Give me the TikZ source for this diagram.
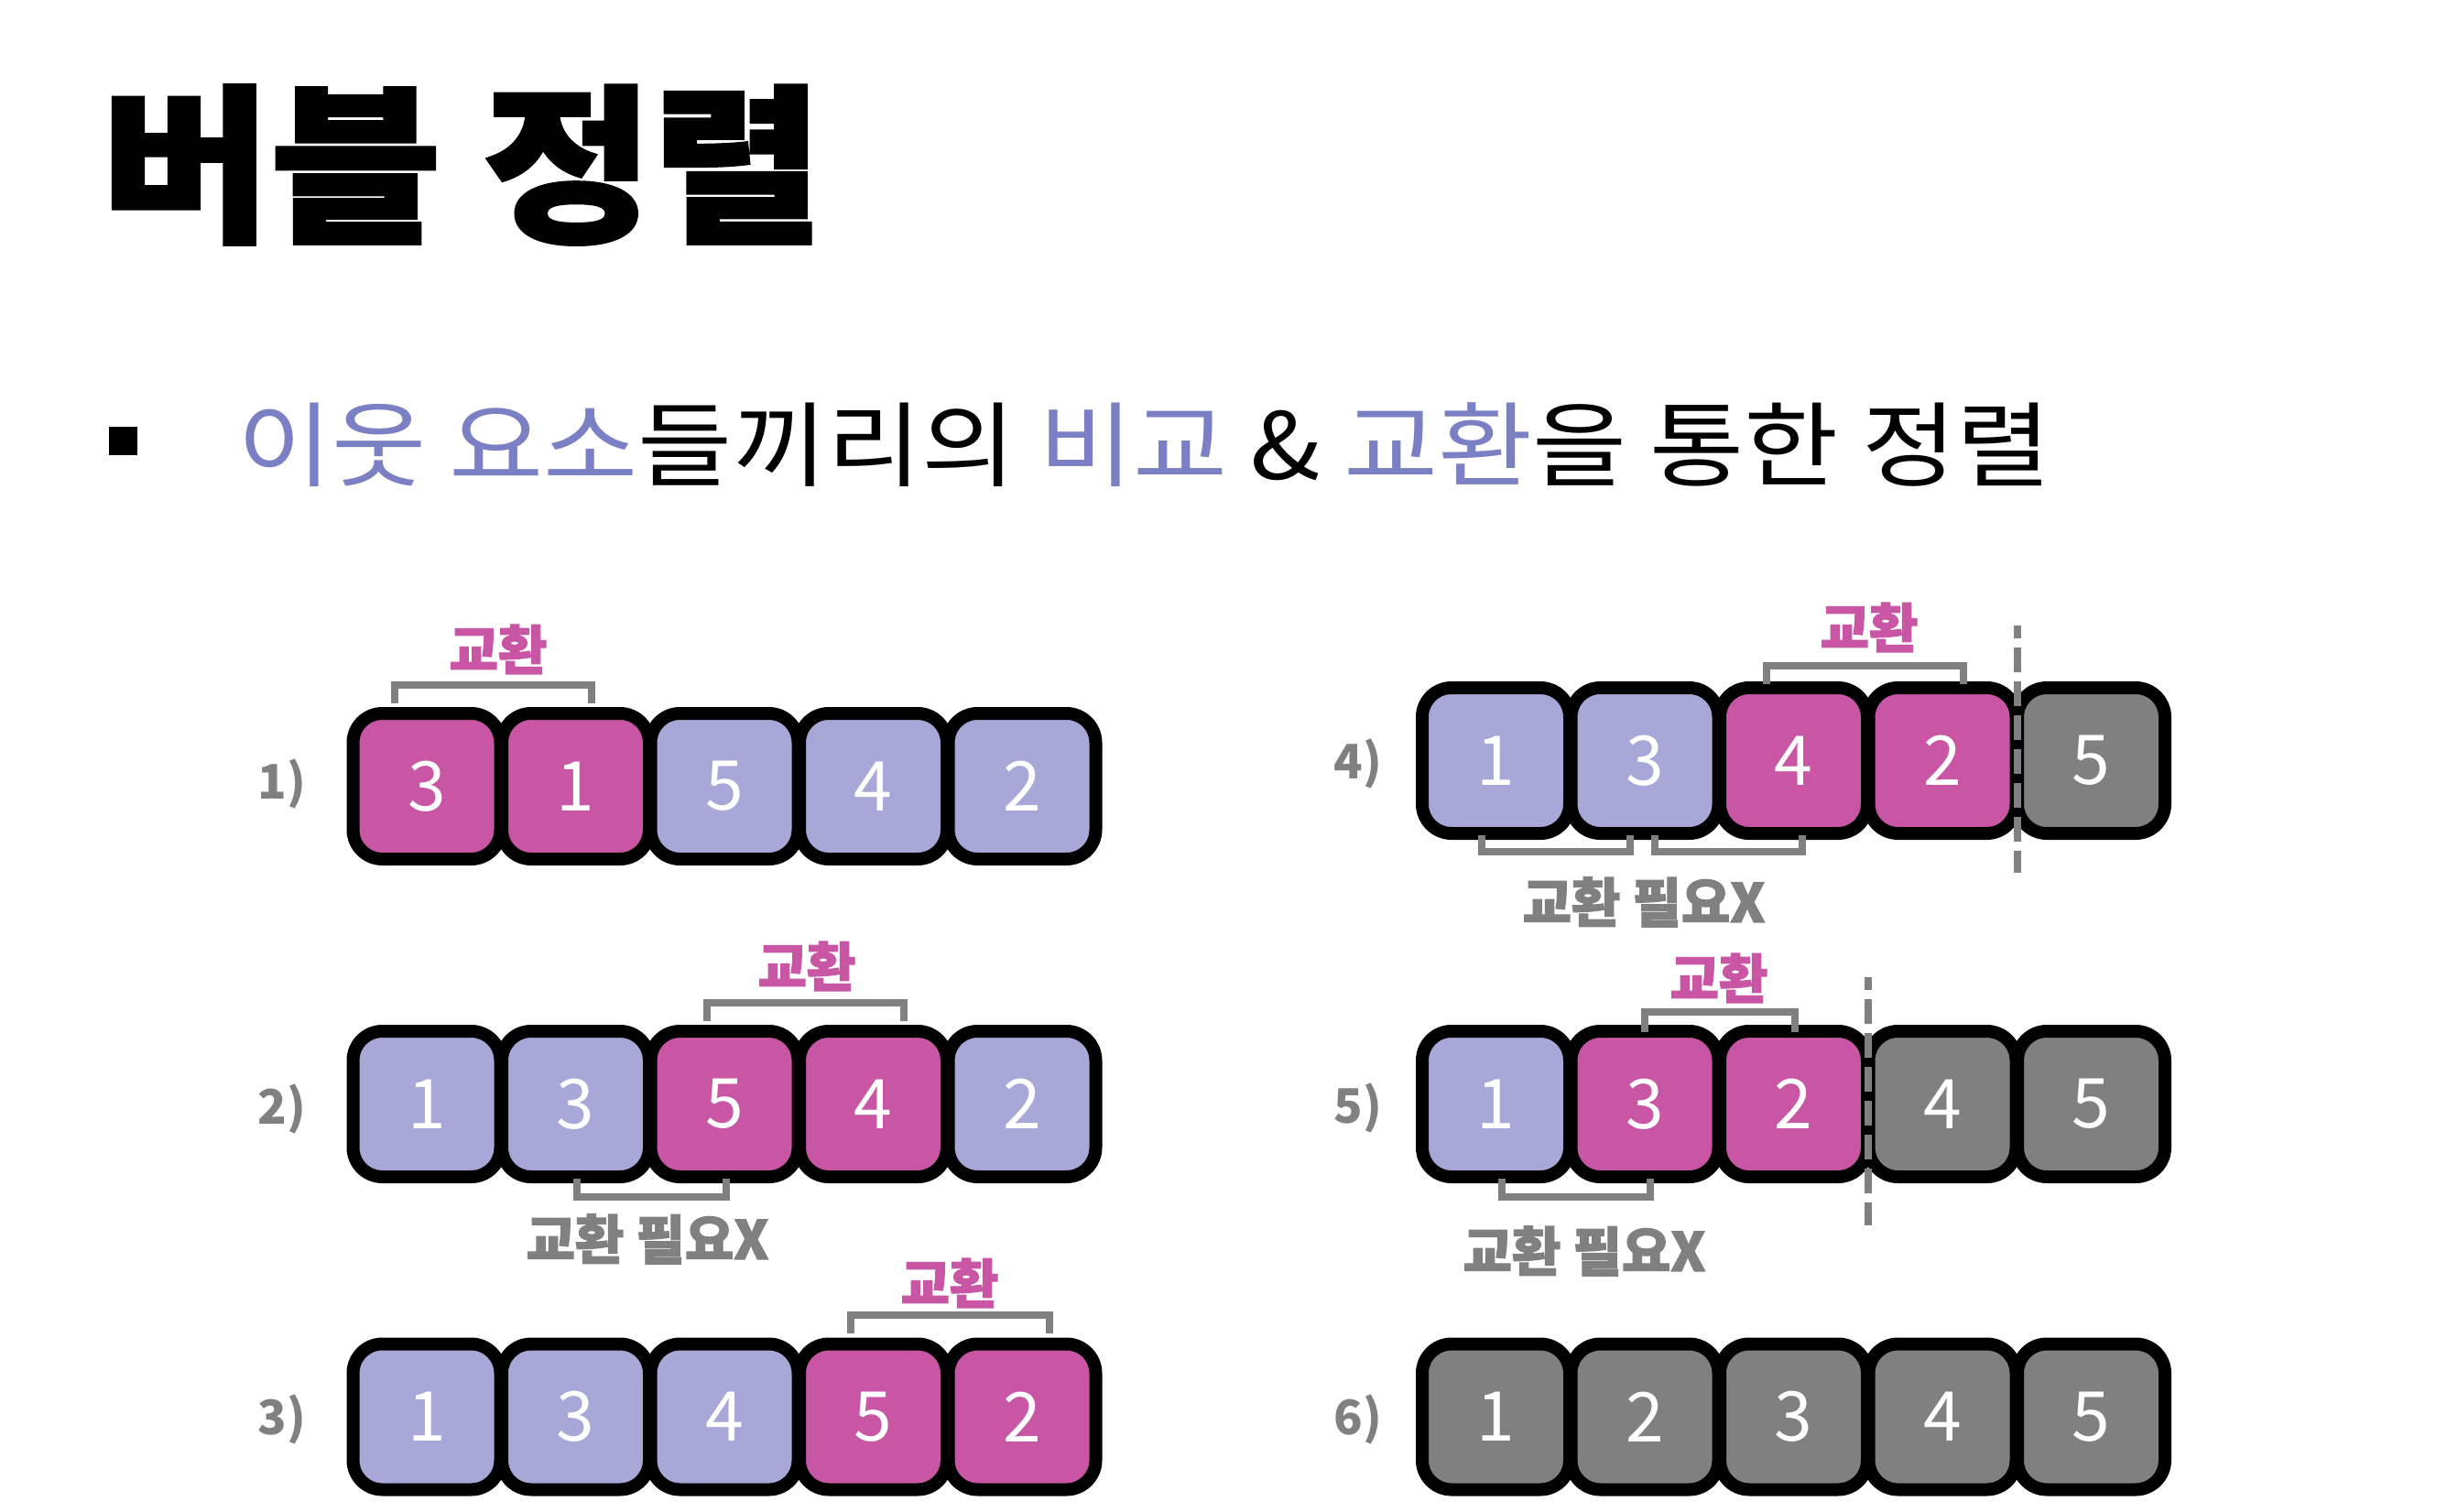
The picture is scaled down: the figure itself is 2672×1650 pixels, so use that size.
\documentclass[tikz,border=0pt]{standalone}
\usepackage{fontspec}
\newfontfamily\kr{Noto Sans CJK KR}
\newfontfamily\krheavy[FakeBold=2]{Noto Sans CJK KR}
\definecolor{lp}{HTML}{A7A7D8}
\definecolor{mg}{HTML}{C955A5}
\definecolor{gc}{HTML}{808080}
\definecolor{tp}{HTML}{7B7FC4}
\newcommand\cellrow[4]{%
  \foreach \v/\c [count=\i from 0] in {#4} {
    \node[cellbox, fill=\c] (#1c\i) at ({#2+162.5*\i},#3) {\v};
  }}
\tikzset{
  cellbox/.style={draw=black, line width=14pt, rounded corners=32pt,
    minimum width=161pt, minimum height=159pt, inner sep=0pt,
    text=white, font=\kr\fontsize{75}{80}\selectfont},
  bracket/.style={draw=gc, line width=8.5pt},
  swaplbl/.style={text=mg, inner sep=0pt, font=\krheavy\bfseries\fontsize{58}{60}\selectfont},
  nolbl/.style={text=gc, inner sep=0pt, font=\krheavy\bfseries\fontsize{58}{60}\selectfont},
  steplbl/.style={text=gc, inner sep=0pt, font=\kr\bfseries\fontsize{52}{56}\selectfont},
  divider/.style={draw=gc, line width=8pt, dash pattern=on 27pt off 10pt, dash phase=13pt}
}
\begin{document}
\begin{tikzpicture}[x=1pt, y=-1pt]
\useasboundingbox (0,0) rectangle (2672,1650);
\fill[white] (0,0) rectangle (2672,1650);
% title
\node[anchor=west, inner sep=0pt, font=\krheavy\bfseries\fontsize{185}{195}\selectfont] (title) at (110,180) {\scalebox{1.09}[1]{버블 정렬}};
% bullet
\fill[black] (119,466) rectangle (150,497);
\node[anchor=west, inner sep=0pt, font=\kr\fontsize{101}{110}\selectfont] (sub) at (259,486)
  {\scalebox{1.11}[1]{\textcolor{tp}{이웃 요소}들끼리의 \textcolor{tp}{비교} \& \textcolor{tp}{교환}을 통한 정렬}};
% cells
\cellrow{a}{466}{858.5}{3/mg,1/mg,5/lp,4/lp,2/lp}
\cellrow{b}{466}{1205.5}{1/lp,3/lp,5/mg,4/mg,2/lp}
\cellrow{c}{466}{1547}{1/lp,3/lp,4/lp,5/mg,2/mg}
\cellrow{d}{1633.5}{830.5}{1/lp,3/lp,4/mg,2/mg,5/gc}
\cellrow{e}{1633.5}{1205.5}{1/lp,3/mg,2/mg,4/gc,5/gc}
\cellrow{f}{1633.5}{1547}{1/gc,2/gc,3/gc,4/gc,5/gc}
% step labels
\node[steplbl] (s1) at (308,856) {1)};
\node[steplbl] (s2) at (308,1211) {2)};
\node[steplbl] (s3) at (308,1550) {3)};
\node[steplbl] (s4) at (1483,834) {4)};
\node[steplbl] (s5) at (1483,1210) {5)};
\node[steplbl] (s6) at (1483,1550) {6)};
% top brackets
\draw[bracket] (431,768) -- (431,748) -- (646,748) -- (646,768);
\draw[bracket] (772,1115) -- (772,1095) -- (987,1095) -- (987,1115);
\draw[bracket] (929,1456) -- (929,1436) -- (1146,1436) -- (1146,1456);
\draw[bracket] (1929,747) -- (1929,727) -- (2144,727) -- (2144,747);
\draw[bracket] (1796,1127) -- (1796,1105) -- (1960,1105) -- (1960,1127);
% bottom brackets
\draw[bracket] (630,1287) -- (630,1307) -- (793,1307) -- (793,1287);
\draw[bracket] (1618,912) -- (1618,930) -- (1780,930) -- (1780,912);
\draw[bracket] (1807,912) -- (1807,930) -- (1968,930) -- (1968,912);
\draw[bracket] (1640,1287) -- (1640,1307) -- (1802,1307) -- (1802,1287);
% dividers
\coordinate (d4t) at (2203,683);
\coordinate (d4b) at (2203,953);
\coordinate (d5t) at (2040,1067);
\coordinate (d5b) at (2040,1338);
\draw[divider] (d4t) -- (d4b);
\draw[divider] (d5t) -- (d5b);
% labels
\node[swaplbl] (x1) at (544,709) {교환};
\node[swaplbl] (x2) at (881,1055) {교환};
\node[swaplbl] (x3) at (1037,1401) {교환};
\node[swaplbl] (x4) at (2041,685) {교환};
\node[swaplbl] (x5) at (1877,1068) {교환};
\node[nolbl] (n2) at (707,1353) {교환 필요X};
\node[nolbl] (n4) at (1795,985) {교환 필요X};
\node[nolbl] (n5) at (1730,1366) {교환 필요X};
\end{tikzpicture}
\end{document}
